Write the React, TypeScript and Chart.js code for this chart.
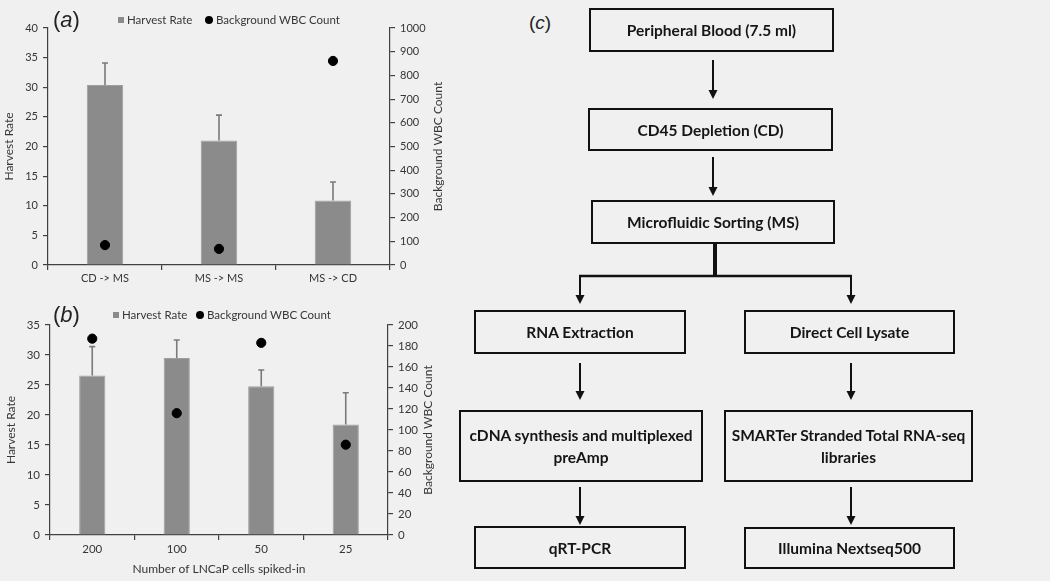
import React, { useEffect, useRef } from 'react';
import { Chart, registerables } from 'chart.js';
Chart.register(...registerables);

// ---- Data (panel a) ----
const categoriesA = ['CD -> MS', 'MS -> MS', 'MS -> CD'];
const harvestA = [30.4, 21.0, 10.9];
const harvestErrA = [3.7, 4.3, 3.1];
const wbcA = [84, 68, 861];

// ---- Data (panel b) ----
const categoriesB = ['200', '100', '50', '25'];
const harvestB = [26.6, 29.5, 24.8, 18.4];
const harvestErrB = [4.8, 3.0, 2.7, 5.3];
const wbcB = [187, 116, 183, 86];

const seriesLabels = ['Harvest Rate', 'Background WBC Count'];

const FONT = 'Lato, "Open Sans", sans-serif';
const TEXT = '#363636';
const AXIS = '#404040';
const BAR = '#8b8b8b';
const BG = '#f0f0f0';

const errorBarPlugin = {
  id: 'errorBars',
  afterDatasetsDraw(chart: any, _args: any, opts: any) {
    const meta = chart.getDatasetMeta(0);
    const yScale = chart.scales.y;
    const ctx = chart.ctx;
    const vals = chart.data.datasets[0].data;
    ctx.save();
    ctx.strokeStyle = opts.color;
    ctx.lineWidth = 1.6;
    meta.data.forEach((bar: any, i: number) => {
      const yTop = yScale.getPixelForValue(vals[i] + opts.errors[i]);
      const yBase = bar.y;
      ctx.beginPath();
      ctx.moveTo(bar.x, yBase);
      ctx.lineTo(bar.x, yTop);
      ctx.moveTo(bar.x - 3, yTop);
      ctx.lineTo(bar.x + 3, yTop);
      ctx.stroke();
    });
    ctx.restore();
  },
};

const decorPlugin = {
  id: 'decor',
  afterDraw(chart: any, _args: any, opts: any) {
    const ctx = chart.ctx;
    const ds = chart.data.datasets;
    ctx.save();
    ctx.font = `11.5px ${FONT}`;
    ctx.fillStyle = TEXT;
    ctx.textBaseline = 'middle';
    ctx.textAlign = 'left';
    // legend
    const ly = opts.legendY;
    ctx.fillStyle = ds[0].backgroundColor;
    ctx.fillRect(opts.legendX, ly - 3, 6, 6);
    ctx.fillStyle = TEXT;
    ctx.fillText(ds[0].label, opts.legendX + 9, ly);
    ctx.fillStyle = '#000';
    ctx.beginPath();
    ctx.arc(opts.legendX2, ly, 4, 0, Math.PI * 2);
    ctx.fill();
    ctx.fillStyle = TEXT;
    ctx.fillText(ds[1].label, opts.legendX2 + 7, ly);
    // right axis title, rotated bottom-to-top
    const area = chart.chartArea;
    ctx.font = `12px ${FONT}`;
    ctx.translate(opts.rightTitleX, (area.top + area.bottom) / 2);
    ctx.rotate(-Math.PI / 2);
    ctx.textAlign = 'center';
    ctx.fillText(opts.rightTitle, 0, 0);
    ctx.restore();
  },
};

function makeConfig(p: any) {
  const tickFont = { family: FONT, size: p.tickSize };
  const gridCommon = { drawOnChartArea: false, drawTicks: true, tickLength: 5, color: AXIS, lineWidth: 1.2 };
  const plain = (v: any) => String(v);
  return {
    type: 'bar',
    data: {
      labels: p.categories,
      datasets: [
        {
          type: 'bar',
          label: seriesLabels[0],
          data: p.harvest,
          backgroundColor: BAR,
          borderColor: '#9e9e9e',
          borderWidth: 1,
          barPercentage: p.barPct,
          categoryPercentage: 1,
          yAxisID: 'y',
          order: 2,
        },
        {
          type: 'line',
          label: seriesLabels[1],
          data: p.wbc,
          showLine: false,
          pointRadius: 4.6,
          pointBackgroundColor: '#000',
          pointBorderColor: '#000',
          borderColor: '#000',
          backgroundColor: '#000',
          yAxisID: 'y1',
          order: 1,
        },
      ],
    },
    options: {
      responsive: false,
      animation: false,
      layout: { padding: { top: p.top, left: 0, right: 0, bottom: 0 } },
      plugins: {
        legend: { display: false },
        tooltip: { enabled: false },
        errorBars: { errors: p.errors, color: '#7a7a7a' },
        decor: {
          legendX: p.legendX,
          legendX2: p.legendX2,
          legendY: p.legendY,
          rightTitle: seriesLabels[1],
          rightTitleX: p.rightTitleX,
        },
      },
      scales: {
        x: {
          type: 'category',
          offset: true,
          grid: { ...gridCommon, offset: true },
          border: { color: AXIS, width: 1.2 },
          ticks: { color: TEXT, font: tickFont, padding: 2, maxRotation: 0, autoSkip: false },
          title: p.xTitle
            ? { display: true, text: p.xTitle, color: TEXT, font: { family: FONT, size: 12 }, padding: { top: 0, bottom: 5 } }
            : { display: false },
          afterFit: (s: any) => {
            s.height = p.xHeight;
          },
        },
        y: {
          position: 'left',
          min: 0,
          max: p.leftMax,
          grid: gridCommon,
          border: { color: AXIS, width: 1.2 },
          ticks: { stepSize: p.leftStep, color: TEXT, font: tickFont, padding: 5, callback: plain },
          title: { display: true, text: seriesLabels[0], color: TEXT, font: { family: FONT, size: 12 }, padding: { top: p.leftTitlePad, bottom: 0 } },
          afterFit: (s: any) => {
            s.width = p.leftWidth;
          },
        },
        y1: {
          position: 'right',
          min: 0,
          max: p.rightMax,
          grid: gridCommon,
          border: { color: AXIS, width: 1.2 },
          ticks: { stepSize: p.rightStep, color: TEXT, font: tickFont, padding: 5, callback: plain },
          afterFit: (s: any) => {
            s.width = p.rightWidth;
          },
        },
      },
    },
    plugins: [errorBarPlugin, decorPlugin],
  };
}

function ChartCanvas({ cfg, left, top, width, height }: any) {
  const ref = useRef<HTMLCanvasElement>(null);
  useEffect(() => {
    const chart = new Chart(ref.current as any, cfg as any);
    return () => chart.destroy();
  }, []);
  return (
    <canvas
      ref={ref}
      width={width}
      height={height}
      style={{ position: 'absolute', left, top, width, height }}
    />
  );
}

const cfgA = makeConfig({
  categories: categoriesA,
  harvest: harvestA,
  errors: harvestErrA,
  wbc: wbcA,
  barPct: 0.32,
  top: 28,
  xHeight: 25,
  leftWidth: 48,
  rightWidth: 70,
  leftMax: 40,
  leftStep: 5,
  rightMax: 1000,
  rightStep: 100,
  leftTitlePad: 2,
  legendX: 118,
  legendX2: 209,
  legendY: 20,
  rightTitleX: 438,
  tickSize: 11,
});

const cfgB = makeConfig({
  categories: categoriesB,
  harvest: harvestB,
  errors: harvestErrB,
  wbc: wbcB,
  barPct: 0.31,
  top: 35,
  xHeight: 46,
  leftWidth: 50,
  rightWidth: 72,
  leftMax: 35,
  leftStep: 5,
  rightMax: 200,
  rightStep: 20,
  leftTitlePad: 4,
  legendX: 113,
  legendX2: 200,
  legendY: 25,
  rightTitleX: 428,
  xTitle: 'Number of LNCaP cells spiked-in',
  tickSize: 11.5,
});

const boxes = [
  { l: 589, t: 8, r: 834, b: 52, text: ['Peripheral Blood (7.5 ml)'] },
  { l: 588, t: 108, r: 833, b: 151, text: ['CD45 Depletion (CD)'] },
  { l: 591, t: 200, r: 835, b: 244, text: ['Microfluidic Sorting (MS)'] },
  { l: 474, t: 310, r: 686, b: 354, text: ['RNA Extraction'] },
  { l: 744, t: 310, r: 955, b: 354, text: ['Direct Cell Lysate'] },
  { l: 459, t: 410, r: 703, b: 482, text: ['cDNA synthesis and multiplexed', 'preAmp'] },
  { l: 724, t: 410, r: 973, b: 482, text: ['SMARTer Stranded Total RNA-seq', 'libraries'] },
  { l: 474, t: 526, r: 686, b: 569, text: ['qRT-PCR'] },
  { l: 744, t: 527, r: 955, b: 569, text: ['Illumina Nextseq500'] },
];

const arrows = [
  { x: 713, y1: 60, y2: 99 },
  { x: 713, y1: 157, y2: 196 },
  { x: 580, y1: 276, y2: 304 },
  { x: 851, y1: 276, y2: 304 },
  { x: 580, y1: 363, y2: 400 },
  { x: 851, y1: 363, y2: 400 },
  { x: 580, y1: 487, y2: 525 },
  { x: 851, y1: 487, y2: 525 },
];

function Flowchart() {
  return (
    <>
      <svg width={1050} height={581} style={{ position: 'absolute', left: 0, top: 0 }}>
        <line x1={715} y1={244} x2={715} y2={277} stroke="#111" strokeWidth={4} />
        <line x1={579} y1={276} x2={852} y2={276} stroke="#111" strokeWidth={2.5} />
        {arrows.map((a, i) => (
          <g key={i}>
            <line x1={a.x} y1={a.y1} x2={a.x} y2={a.y2 - 6} stroke="#111" strokeWidth={2} />
            <polygon points={`${a.x - 4.5},${a.y2 - 9} ${a.x + 4.5},${a.y2 - 9} ${a.x},${a.y2}`} fill="#111" />
          </g>
        ))}
      </svg>
      {boxes.map((b, i) => (
        <div
          key={i}
          style={{
            position: 'absolute',
            left: b.l,
            top: b.t,
            width: b.r - b.l,
            height: b.b - b.t,
            boxSizing: 'border-box',
            border: '2.8px solid #111',
            display: 'flex',
            flexDirection: 'column',
            alignItems: 'center',
            justifyContent: 'center',
            fontFamily: FONT,
            fontWeight: 700,
            fontSize: 15.5,
            lineHeight: '22px',
            color: '#151515',
            textAlign: 'center',
            whiteSpace: 'nowrap',
          }}
        >
          {b.text.map((t, j) => (
            <div key={j}>{t}</div>
          ))}
        </div>
      ))}
    </>
  );
}

function PanelLabel({ letter, left, top, size }: any) {
  return (
    <div
      style={{
        position: 'absolute',
        left,
        top,
        fontFamily: '"Liberation Sans", Arial, sans-serif',
        fontSize: size,
        color: '#222',
        lineHeight: 1,
        whiteSpace: 'nowrap',
      }}
    >
      (<i>{letter}</i>)
    </div>
  );
}

export default function App() {
  return (
    <div
      style={{
        position: 'absolute',
        left: 0,
        top: 0,
        width: 1050,
        height: 581,
        background: BG,
        overflow: 'hidden',
      }}
    >
      <ChartCanvas cfg={cfgA} left={0} top={0} width={460} height={290} />
      <ChartCanvas cfg={cfgB} left={0} top={290} width={460} height={291} />
      <PanelLabel letter="a" left={53} top={9} size={22} />
      <PanelLabel letter="b" left={53} top={304} size={22} />
      <PanelLabel letter="c" left={529} top={13} size={19} />
      <Flowchart />
    </div>
  );
}
